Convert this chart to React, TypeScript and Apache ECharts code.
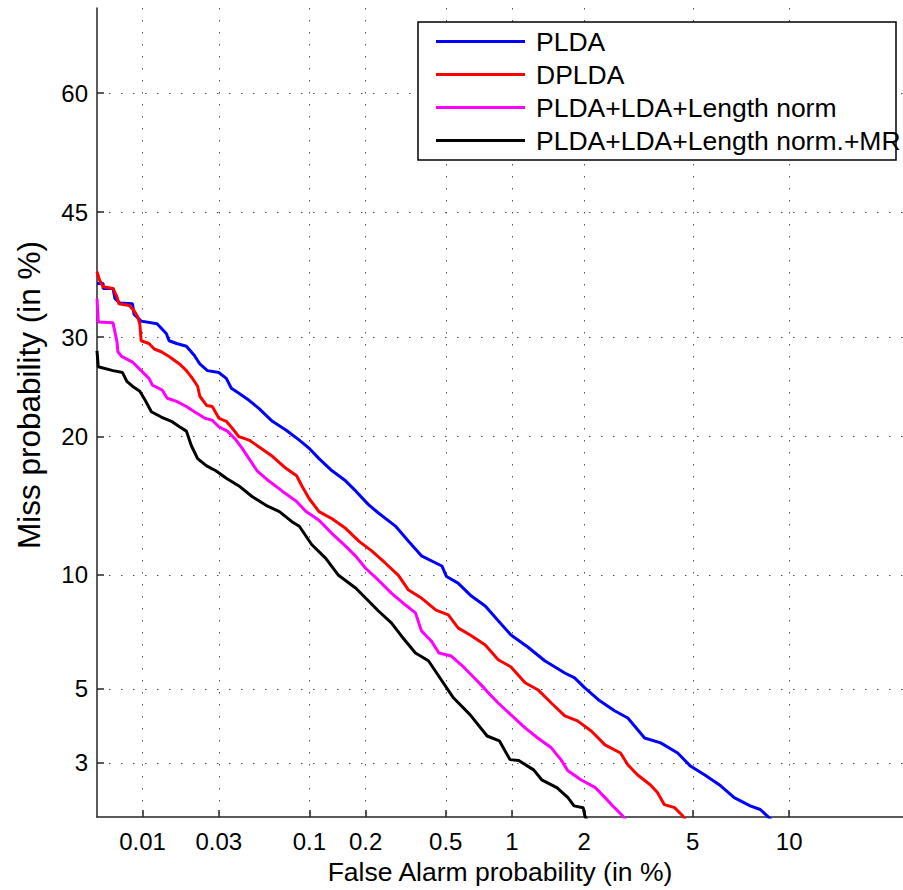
import React, { useEffect, useRef } from "react";
import * as echarts from "echarts";

// ---- data (percent values) ----
const xTickValues = [0.01, 0.03, 0.1, 0.2, 0.5, 1, 2, 5, 10];
const xTickLabels = ["0.01", "0.03", "0.1", "0.2", "0.5", "1", "2", "5", "10"];
const yTickValues = [3, 5, 10, 20, 30, 45, 60];
const yTickLabels = ["3", "5", "10", "20", "30", "45", "60"];
const xRange = [0.005, 19.7];
const yRange = [2, 70];

const seriesNames = [
  "PLDA",
  "DPLDA",
  "PLDA+LDA+Length norm",
  "PLDA+LDA+Length norm.+MR",
];
const seriesColors = ["#0000ff", "#ff0000", "#ff00ff", "#000000"];

const pldaCurve = [
  [0.005, 36.2], [0.0055, 36.2], [0.0055, 35.6], [0.0064, 35.6], [0.0066, 34.4], [0.0071, 33.9],
  [0.0086, 33.8], [0.0088, 32.6], [0.0098, 31.8], [0.0124, 31.5], [0.0142, 30.4], [0.0148, 29.6],
  [0.0165, 29.3], [0.019, 29.0], [0.0213, 28.0], [0.023, 27.1], [0.0256, 26.4], [0.03, 26.2],
  [0.0333, 25.6], [0.0357, 24.6], [0.0396, 24.1], [0.0454, 23.4], [0.052, 22.6], [0.062, 21.4],
  [0.074, 20.6], [0.088, 19.7], [0.0995, 19.0], [0.113, 18.1], [0.133, 17.1], [0.157, 16.3],
  [0.178, 15.5], [0.207, 14.5], [0.233, 13.9], [0.284, 13.0], [0.33, 12.0], [0.382, 11.1],
  [0.479, 10.5], [0.504, 9.9], [0.571, 9.54], [0.658, 8.86], [0.761, 8.36], [0.87, 7.66],
  [0.99, 7.03], [1.17, 6.53], [1.38, 5.99], [1.67, 5.54], [1.83, 5.37], [2.01, 5.03],
  [2.27, 4.65], [2.62, 4.32], [2.94, 4.11], [3.39, 3.58], [3.87, 3.46], [4.44, 3.22],
  [4.91, 2.93], [5.47, 2.75], [6.17, 2.54], [6.83, 2.32], [7.66, 2.18], [8.22, 2.12],
  [8.62, 2.02], [8.9, 1.95],
];

const dpldaCurve = [
  [0.005, 37.6], [0.0052, 36.6], [0.0055, 35.8], [0.0064, 35.6], [0.0068, 34.6], [0.007, 33.8],
  [0.0082, 33.6], [0.0088, 33.0], [0.0093, 32.3], [0.0096, 31.5], [0.0098, 29.6], [0.011, 29.3],
  [0.0119, 28.7], [0.0132, 28.4], [0.0148, 27.9], [0.0172, 27.1], [0.019, 26.4], [0.0207, 25.6],
  [0.0223, 24.8], [0.023, 23.8], [0.0253, 22.9], [0.0274, 22.8], [0.03, 21.7], [0.0333, 21.4],
  [0.0362, 20.75], [0.0396, 20.0], [0.0454, 19.7], [0.052, 19.1], [0.062, 18.3], [0.074, 17.3],
  [0.085, 16.7], [0.091, 15.9], [0.0995, 14.97], [0.113, 14.0], [0.133, 13.5], [0.157, 12.85],
  [0.185, 12.0], [0.215, 11.4], [0.253, 10.66], [0.294, 9.97], [0.33, 9.17], [0.382, 8.76],
  [0.449, 8.16], [0.514, 7.94], [0.571, 7.34], [0.658, 7.0], [0.761, 6.61], [0.87, 6.03],
  [0.99, 5.76], [1.14, 5.2], [1.29, 4.97], [1.47, 4.55], [1.67, 4.17], [1.88, 4.03],
  [2.13, 3.76], [2.41, 3.41], [2.76, 3.22], [2.94, 2.96], [3.19, 2.75], [3.56, 2.55],
  [3.77, 2.41], [3.99, 2.2], [4.33, 2.15], [4.62, 2.02], [4.75, 1.95],
];

const ldaLnCurve = [
  [0.005, 34.4], [0.0051, 31.7], [0.0064, 31.6], [0.0068, 29.5], [0.0069, 28.4], [0.0073, 27.9],
  [0.0086, 27.3], [0.0098, 26.4], [0.011, 25.6], [0.0116, 24.9], [0.0134, 24.4], [0.0144, 23.6],
  [0.0165, 23.3], [0.019, 22.8], [0.0213, 22.3], [0.0246, 21.7], [0.0274, 21.5], [0.03, 20.9],
  [0.0338, 20.5], [0.0381, 19.7], [0.0413, 19.0], [0.0454, 18.1], [0.0506, 17.1], [0.059, 16.3],
  [0.0706, 15.5], [0.0847, 14.75], [0.096, 14.0], [0.113, 13.4], [0.133, 12.5], [0.157, 11.7],
  [0.178, 11.07], [0.2, 10.37], [0.233, 9.7], [0.271, 9.01], [0.319, 8.41], [0.357, 8.03],
  [0.382, 7.21], [0.426, 6.78], [0.464, 6.29], [0.531, 6.17], [0.591, 5.84], [0.658, 5.47],
  [0.729, 5.13], [0.81, 4.77], [0.87, 4.55], [0.99, 4.2], [1.14, 3.84], [1.29, 3.58],
  [1.47, 3.34], [1.61, 3.07], [1.72, 2.83], [1.94, 2.65], [2.21, 2.5], [2.41, 2.32],
  [2.62, 2.15], [2.81, 2.02], [2.9, 1.95],
];

const ldaLnMrCurve = [
  [0.005, 28.5], [0.0051, 26.8], [0.0064, 26.4], [0.0074, 26.2], [0.0079, 25.3], [0.0086, 24.8],
  [0.0096, 24.3], [0.0105, 23.3], [0.0114, 22.3], [0.0132, 21.8], [0.0153, 21.4], [0.0172, 20.9],
  [0.019, 20.5], [0.0204, 19.2], [0.0223, 18.1], [0.0253, 17.5], [0.0288, 17.1], [0.0333, 16.5],
  [0.0396, 15.9], [0.0473, 15.1], [0.057, 14.45], [0.068, 14.0], [0.08, 13.3], [0.088, 12.99],
  [0.103, 11.8], [0.123, 10.95], [0.144, 9.97], [0.178, 9.27], [0.2, 8.76], [0.233, 8.12],
  [0.271, 7.57], [0.305, 6.98], [0.357, 6.29], [0.413, 5.99], [0.479, 5.27], [0.543, 4.71],
  [0.65, 4.2], [0.776, 3.63], [0.88, 3.51], [0.98, 3.07], [1.07, 3.05], [1.24, 2.85],
  [1.34, 2.65], [1.55, 2.5], [1.72, 2.32], [1.82, 2.18], [1.98, 2.15], [2.01, 2.02],
  [2.05, 1.95],
];

const curves = [pldaCurve, dpldaCurve, ldaLnCurve, ldaLnMrCurve];

const xAxisTitle = "False Alarm probability (in %)";
const yAxisTitle = "Miss probability (in %)";

// ---- normal deviate (probit) scale ----
function probit(p: number): number {
  const a = [-3.969683028665376e1, 2.209460984245205e2, -2.759285104469687e2, 1.38357751867269e2, -3.066479806614716e1, 2.506628277459239];
  const b = [-5.447609879822406e1, 1.615858368580409e2, -1.556989798598866e2, 6.680131188771972e1, -1.328068155288572e1];
  const c = [-7.784894002430293e-3, -3.223964580411365e-1, -2.400758277161838, -2.549732539343734, 4.374664141464968, 2.938163982698783];
  const d = [7.784695709041462e-3, 3.224671290700398e-1, 2.445134137142996, 3.754408661907416];
  const pl = 0.02425;
  if (p < pl) {
    const q = Math.sqrt(-2 * Math.log(p));
    return (((((c[0] * q + c[1]) * q + c[2]) * q + c[3]) * q + c[4]) * q + c[5]) / ((((d[0] * q + d[1]) * q + d[2]) * q + d[3]) * q + 1);
  }
  if (p <= 1 - pl) {
    const q = p - 0.5;
    const r = q * q;
    return ((((((a[0] * r + a[1]) * r + a[2]) * r + a[3]) * r + a[4]) * r + a[5]) * q) / (((((b[0] * r + b[1]) * r + b[2]) * r + b[3]) * r + b[4]) * r + 1);
  }
  const q = Math.sqrt(-2 * Math.log(1 - p));
  return -(((((c[0] * q + c[1]) * q + c[2]) * q + c[3]) * q + c[4]) * q + c[5]) / ((((d[0] * q + d[1]) * q + d[2]) * q + d[3]) * q + 1);
}

const pct = (v: number) => probit(v / 100);

const FONT = "'Liberation Sans', Arial, Helvetica, sans-serif";

function labelFor(values: number[], labels: string[]) {
  const pos = values.map(pct);
  return (v: number) => {
    let best = 0;
    let bd = Infinity;
    pos.forEach((p, i) => {
      const dd = Math.abs(p - v);
      if (dd < bd) {
        bd = dd;
        best = i;
      }
    });
    return labels[best];
  };
}

export default function App() {
  const ref = useRef<HTMLDivElement>(null);

  useEffect(() => {
    if (!ref.current) return;
    const chart = echarts.init(ref.current, null, { renderer: "svg" });
    const xPos = xTickValues.map(pct);
    const yPos = yTickValues.map(pct);
    const axisColor = "#262626";
    const splitStyle = { type: [1.5, 10.5] as any, color: "#555", width: 1 };

    chart.setOption({
      animation: false,
      backgroundColor: "#fff",
      grid: { left: 97, top: 8, right: -3, bottom: 72, containLabel: false },
      xAxis: {
        type: "value",
        min: pct(xRange[0]),
        max: pct(xRange[1]),
        axisLine: { show: true, onZero: false, lineStyle: { color: axisColor, width: 1.5 } },
        axisTick: { show: true, inside: true, length: 7, customValues: xPos, lineStyle: { color: axisColor, width: 1.5 } },
        axisLabel: {
          customValues: xPos,
          formatter: labelFor(xTickValues, xTickLabels),
          fontSize: 24,
          color: "#000",
          fontFamily: FONT,
          margin: 12,
        },
        splitLine: { show: true, lineStyle: splitStyle },
        name: xAxisTitle,
        nameLocation: "middle",
        nameGap: 40,
        nameTextStyle: { fontSize: 26.5, color: "#000", fontFamily: FONT },
      },
      yAxis: {
        type: "value",
        min: pct(yRange[0]),
        max: pct(yRange[1]),
        axisLine: { show: true, onZero: false, lineStyle: { color: axisColor, width: 1.5 } },
        axisTick: { show: true, inside: true, length: 7, customValues: yPos, lineStyle: { color: axisColor, width: 1.5 } },
        axisLabel: {
          customValues: yPos,
          formatter: labelFor(yTickValues, yTickLabels),
          fontSize: 24,
          color: "#000",
          fontFamily: FONT,
          margin: 9,
        },
        splitLine: { show: true, lineStyle: splitStyle },
      },
      legend: {
        show: true,
        orient: "vertical",
        left: 436,
        top: 28,
        padding: 0,
        itemWidth: 89,
        itemHeight: 3,
        itemGap: 6,
        icon: "rect",
        textStyle: { fontSize: 26.5, lineHeight: 25.5, color: "#000", fontFamily: FONT, padding: [0, 0, 0, 6] },
        data: seriesNames,
        selectedMode: false,
      },
      graphic: [
        {
          type: "rect",
          z: 3,
          shape: { x: 418, y: 22, width: 478, height: 138 },
          style: { fill: "#fff", stroke: "#000", lineWidth: 1.5 },
        },
        {
          type: "text",
          x: 29,
          y: 395,
          rotation: Math.PI / 2,
          style: {
            text: yAxisTitle,
            fontSize: 31.5,
            fontFamily: FONT,
            fill: "#000",
            align: "center",
            verticalAlign: "middle",
          },
        },
      ],
      series: curves.map((c, i) => ({
        type: "line",
        name: seriesNames[i],
        data: c.map(([fa, miss]) => [pct(fa), pct(miss)]),
        showSymbol: false,
        symbol: "none",
        clip: true,
        lineStyle: { color: seriesColors[i], width: 3 },
        itemStyle: { color: seriesColors[i] },
        z: 2,
      })),
    });
    return () => chart.dispose();
  }, []);

  return (
    <div
      ref={ref}
      style={{ position: "fixed", left: 0, top: 0, width: 903, height: 890, background: "#fff" }}
    />
  );
}
